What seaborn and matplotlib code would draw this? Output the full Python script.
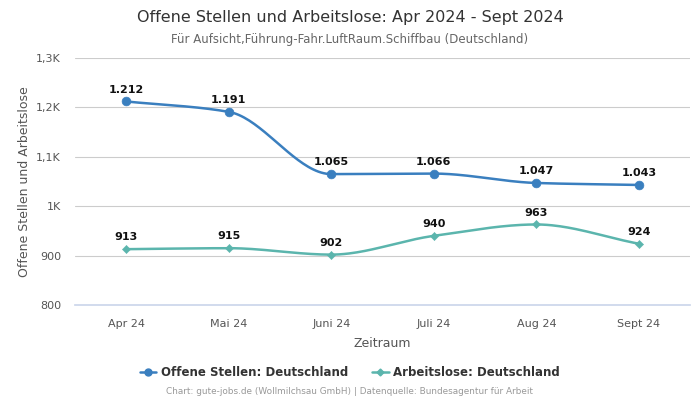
import numpy as np
import pandas as pd
import matplotlib
matplotlib.use("Agg")
import matplotlib.pyplot as plt
import seaborn as sns
from matplotlib.lines import Line2D

months = ["Apr 24", "Mai 24", "Juni 24", "Juli 24", "Aug 24", "Sept 24"]
offene_stellen = [1212, 1191, 1065, 1066, 1047, 1043]
arbeitslose = [913, 915, 902, 940, 963, 924]
yticks = [800, 900, 1000, 1100, 1200, 1300]
ytick_labels = ["800", "900", "1K", "1,1K", "1,2K", "1,3K"]

c_blue = "#3a7fbf"
c_teal = "#5bb5ad"

sns.set_theme(style="white")
plt.rcParams['font.family'] = ['DejaVu Sans']


def monotone(x, y, n=40):
    x = np.asarray(x, float); y = np.asarray(y, float)
    h = np.diff(x); d = np.diff(y) / h
    m = np.zeros_like(y)
    m[0] = d[0]; m[-1] = d[-1]
    for i in range(1, len(y) - 1):
        if d[i - 1] * d[i] <= 0:
            m[i] = 0
        else:
            w1 = 2 * h[i] + h[i - 1]; w2 = h[i] + 2 * h[i - 1]
            m[i] = (w1 + w2) / (w1 / d[i - 1] + w2 / d[i])
    xs, ys = [], []
    for i in range(len(x) - 1):
        t = np.linspace(0, 1, n, endpoint=(i == len(x) - 2))
        h00 = 2 * t**3 - 3 * t**2 + 1; h10 = t**3 - 2 * t**2 + t
        h01 = -2 * t**3 + 3 * t**2; h11 = t**3 - t**2
        xs.append(x[i] + t * h[i])
        ys.append(h00 * y[i] + h10 * h[i] * m[i] + h01 * y[i + 1] + h11 * h[i] * m[i + 1])
    return np.concatenate(xs), np.concatenate(ys)


fig = plt.figure(figsize=(7, 4), dpi=100)
ax = fig.add_axes([0.107, 0.2375, 0.879, 0.6175])

xpos = np.arange(len(months))
for vals, col, mk, ms in [(offene_stellen, c_blue, "o", 6), (arbeitslose, c_teal, "D", 4)]:
    sx, sy = monotone(xpos, vals)
    sns.lineplot(x=sx, y=sy, ax=ax, color=col, linewidth=1.8, sort=False)
    sns.scatterplot(x=xpos, y=vals, ax=ax, color=col, marker=mk, s=ms**2 * 1.1, edgecolor=col, zorder=5)
    for xi, v in zip(xpos, vals):
        lab = f"{v:,}".replace(",", ".")
        ax.annotate(lab, (xi, v), xytext=(0, 5), textcoords="offset points",
                    ha="center", va="bottom", fontsize=8, fontweight="bold", color="#111111")

ax.set_xlim(-0.5, 5.5)
ax.set_ylim(800, 1300)
ax.set_xticks(xpos)
ax.set_xticklabels(months)
ax.set_yticks(yticks)
ax.set_yticklabels(ytick_labels)
ax.tick_params(axis="both", labelsize=8, colors="#555555", length=0, pad=10)
ax.grid(axis="y", color="#cccccc", linewidth=0.8)
ax.set_axisbelow(True)
for s in ["top", "right", "left"]:
    ax.spines[s].set_visible(False)
ax.spines["bottom"].set_color("#ccd6eb")
ax.set_xlabel("Zeitraum", fontsize=9, color="#555555", labelpad=6)
ax.set_ylabel("Offene Stellen und Arbeitslose", fontsize=9, color="#555555", labelpad=4)

fig.text(0.5, 0.957, "Offene Stellen und Arbeitslose: Apr 2024 - Sept 2024", ha="center", va="center",
         fontsize=11.5, color="#333333")
fig.text(0.5, 0.902, "Für Aufsicht,Führung-Fahr.LuftRaum.Schiffbau (Deutschland)", ha="center", va="center",
         fontsize=8.5, color="#666666")

handles = [Line2D([0], [0], color=c_blue, marker="o", markersize=5, linewidth=1.8),
           Line2D([0], [0], color=c_teal, marker="D", markersize=3.5, linewidth=1.8)]
fig.legend(handles, ["Offene Stellen: Deutschland", "Arbeitslose: Deutschland"], loc="center",
           bbox_to_anchor=(0.5, 0.068), ncol=2, frameon=False, handlelength=1.4,
           columnspacing=2.0, handletextpad=0.4,
           prop={"size": 8.5, "weight": "bold"}, labelcolor="#333333")
fig.text(0.5, 0.02, "Chart: gute-jobs.de (Wollmilchsau GmbH) | Datenquelle: Bundesagentur für Arbeit",
         ha="center", va="center", fontsize=6.4, color="#999999")

fig.savefig("out.png", dpi=100)
